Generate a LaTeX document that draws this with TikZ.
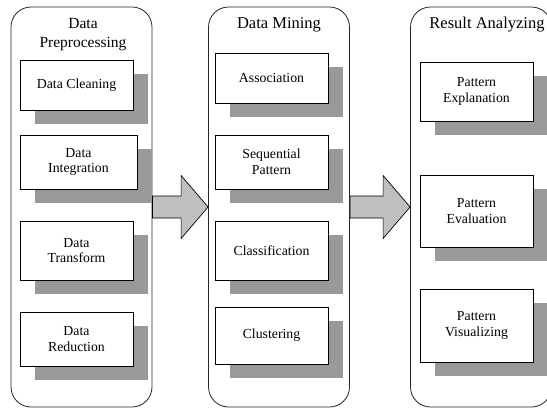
\documentclass[tikz,border=0pt]{standalone}
\usepackage{fontspec}
\setmainfont{Liberation Serif}
\usetikzlibrary{calc,shadows}

\tikzset{
  stage/.style={draw=black!85, line width=0.8pt, rounded corners=20pt, fill=white,
    minimum width=141pt, minimum height=400pt, inner sep=0pt},
  stagetitle/.style={align=center, inner sep=0pt, anchor=base,
    font=\fontsize{16.5}{19}\selectfont},
  task/.style={draw=black, line width=0.8pt, fill=white, align=center, inner sep=0pt,
    minimum width=113pt, font=\fontsize{13.8}{15.5}\selectfont,
    drop shadow={shadow xshift=14.5pt, shadow yshift=-13.5pt, fill=black!40, opacity=1}},
  flowarrow/.style={draw=black, line width=0.7pt, fill=black!25, line join=miter},
}

% block arrow from the right side of one stage to the left side of the next
\newcommand\stagearrow[2]{%
  \draw[flowarrow] ($(#1.east)+(0,-11)$) -- ($(#2.west)+(-27,-11)$)
    -- ($(#2.west)+(-27,-31.5)$) -- (#2.west) -- ($(#2.west)+(-27,31.5)$)
    -- ($(#2.west)+(-27,11)$) -- ($(#1.east)+(0,11)$) -- cycle;}

\begin{document}
\begin{tikzpicture}[x=1pt, y=-1pt]
  \clip (0,0) rectangle (547,410);
  \fill[white] (0,0) rectangle (547,410);

  % the three stages
  \node[stage] (prep) at (81.5,207) {};
  \node[stage] (mine) at (279,207) {};
  \node[stage] (anal) at (481,207) {};

  % multi-line titles sit on the baseline of their last line
  \node[stagetitle, font=\fontsize{15.5}{19}\selectfont] (prept) at (83,47) {Data\\Preprocessing};
  \node[stagetitle] (minet) at (279,28) {Data Mining};
  \node[stagetitle] (analt) at (487,28) {Result Analyzing};

  % preprocessing tasks
  \node[task, minimum height=50pt] (clean) at (76.5,85) {Data Cleaning};
  \node[task, minimum height=54pt, minimum width=117pt] (integ) at (78.5,162) {Data\\Integration};
  \node[task, minimum height=59pt] (trans) at (76.5,250.5) {Data\\Transform};
  \node[task, minimum height=54pt] (reduc) at (76.5,339) {Data\\Reduction};

  % mining tasks
  \node[task, minimum height=50pt] (assoc) at (271.5,78) {Association};
  \node[task, minimum height=54pt] (seqpat) at (271.5,162) {Sequential\\Pattern};
  \node[task, minimum height=59pt] (classif) at (271.5,250.5) {Classification};
  \node[task, minimum height=57pt] (clust) at (271.5,335.5) {Clustering};

  % analyzing tasks
  \node[task, minimum height=59pt] (explan) at (476.5,91.5) {Pattern\\Explanation};
  \node[task, minimum height=72pt] (evalu) at (476.5,211) {Pattern\\Evaluation};
  \node[task, minimum height=73pt] (visual) at (476.5,325.5) {Pattern\\Visualizing};

  \stagearrow{prep}{mine}
  \stagearrow{mine}{anal}
\end{tikzpicture}
\end{document}
